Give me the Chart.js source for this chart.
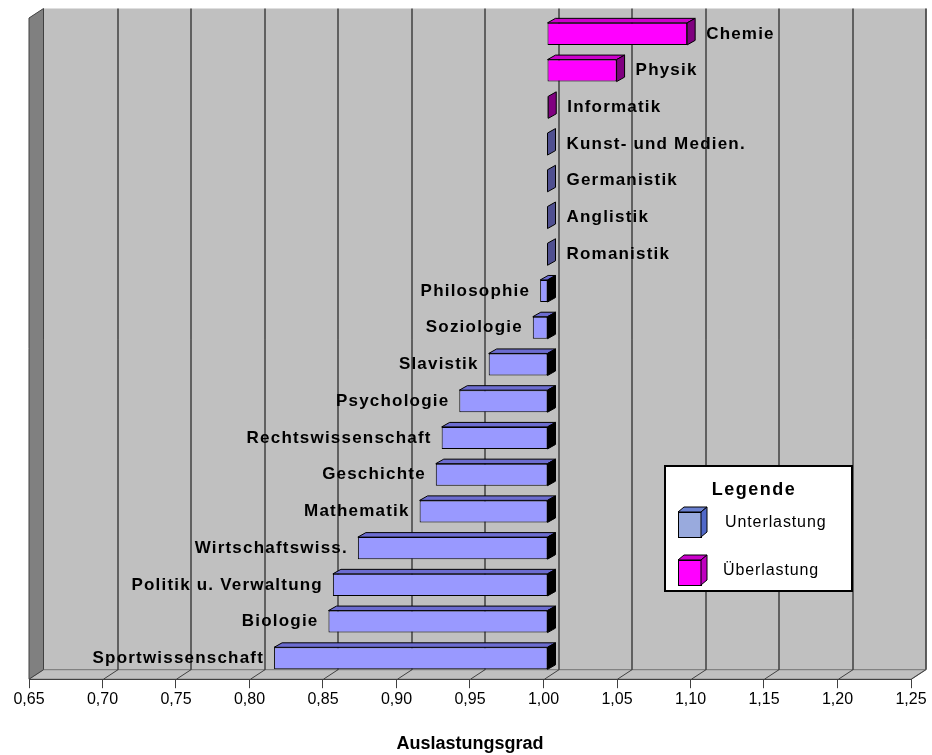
<!DOCTYPE html>
<html>
<head>
<meta charset="utf-8">
<script src="https://cdn.jsdelivr.net/npm/chart.js@4"></script>
<style>
  body { margin: 0; background: #fff; }
  #wrap { width: 932px; height: 755px; }
</style>
</head>
<body>
<div id="wrap"><canvas id="chart"></canvas></div>
<script>
const categories = ['Chemie', 'Physik', 'Informatik', 'Kunst- und Medien.', 'Germanistik', 'Anglistik', 'Romanistik',
    'Philosophie', 'Soziologie', 'Slavistik', 'Psychologie', 'Rechtswissenschaft', 'Geschichte', 'Mathematik',
    'Wirtschaftswiss.', 'Politik u. Verwaltung', 'Biologie', 'Sportwissenschaft'];
const auslastung = [1.095, 1.047, 1.0005, 1.00, 1.00, 1.00, 1.00,
    0.995, 0.990, 0.960, 0.940, 0.928, 0.924, 0.913,
    0.871, 0.854, 0.851, 0.814];
const xTickLabels = ['0,65', '0,70', '0,75', '0,80', '0,85', '0,90', '0,95', '1,00', '1,05', '1,10', '1,15', '1,20', '1,25'];
const seriesNames = ['Unterlastung', 'Überlastung'];

// floating bars, all starting at 1,00
const unterlastung = auslastung.map(v => v <= 1 ? [1, v] : null);
const ueberlastung = auslastung.map(v => v > 1 ? [1, v] : null);

const FONT = 'Liberation Sans, Arial, sans-serif';
Chart.defaults.font.family = FONT;
Chart.defaults.color = '#000';

const wallDepth = { dx: 14.5, dy: -9.5 };
const barDepth = { dx: 8, dy: -4.5 };
const barShift = { dx: 4, dy: -2.5 };

const threeD = {
    id: 'threeD',
    beforeDraw(chart) {
        const { ctx, chartArea: a, scales: { x } } = chart;
        const W = wallDepth;
        ctx.save();
        // back wall
        ctx.fillStyle = '#c0c0c0';
        ctx.fillRect(a.left + W.dx, a.top + W.dy, a.right - a.left, a.bottom - a.top);
        ctx.strokeStyle = '#808080';
        ctx.lineWidth = 1;
        ctx.beginPath();
        ctx.moveTo(a.right + W.dx + 0.5, a.top + W.dy);
        ctx.lineTo(a.right + W.dx + 0.5, a.bottom + W.dy);
        ctx.stroke();
        // floor
        ctx.beginPath();
        ctx.moveTo(a.left, a.bottom);
        ctx.lineTo(a.right, a.bottom);
        ctx.lineTo(a.right + W.dx, a.bottom + W.dy);
        ctx.lineTo(a.left + W.dx, a.bottom + W.dy);
        ctx.closePath();
        ctx.fillStyle = '#c0c0c0';
        ctx.fill();
        ctx.strokeStyle = '#707070';
        ctx.stroke();
        // grid on wall and floor
        x.ticks.forEach((t, i) => {
            if (i === 0) return;
            const px = Math.round(x.getPixelForValue(t.value)) + 0.5;
            ctx.strokeStyle = '#000';
            ctx.beginPath();
            ctx.moveTo(px + W.dx, a.top + W.dy);
            ctx.lineTo(px + W.dx, a.bottom + W.dy);
            ctx.stroke();
            ctx.strokeStyle = '#404040';
            ctx.beginPath();
            ctx.moveTo(px, a.bottom);
            ctx.lineTo(px + W.dx, a.bottom + W.dy);
            ctx.stroke();
        });
        // left wall
        ctx.beginPath();
        ctx.moveTo(a.left, a.top);
        ctx.lineTo(a.left + W.dx, a.top + W.dy);
        ctx.lineTo(a.left + W.dx, a.bottom + W.dy);
        ctx.lineTo(a.left, a.bottom);
        ctx.closePath();
        ctx.fillStyle = '#808080';
        ctx.fill();
        ctx.strokeStyle = '#404040';
        ctx.stroke();
        ctx.restore();
    },
    beforeDatasetsDraw(chart) {
        chart.ctx.save();
        chart.ctx.translate(barShift.dx, barShift.dy);
    },
    afterDatasetsDraw(chart) {
        const ctx = chart.ctx;
        const D = barDepth;
        chart.data.datasets.forEach((ds, di) => {
            chart.getDatasetMeta(di).data.forEach((el, i) => {
                if (!ds.data[i]) return;
                const p = el.getProps(['x', 'y', 'base', 'height'], true);
                const left = Math.min(p.x, p.base), right = Math.max(p.x, p.base);
                const top = p.y - p.height / 2, bottom = p.y + p.height / 2;
                ctx.strokeStyle = '#000';
                ctx.lineWidth = 1;
                if (right - left >= 2) {
                    ctx.beginPath();
                    ctx.moveTo(left, top);
                    ctx.lineTo(right, top);
                    ctx.lineTo(right + D.dx, top + D.dy);
                    ctx.lineTo(left + D.dx, top + D.dy);
                    ctx.closePath();
                    ctx.fillStyle = ds.topColor;
                    ctx.fill();
                    ctx.stroke();
                }
                ctx.beginPath();
                ctx.moveTo(right, top);
                ctx.lineTo(right + D.dx, top + D.dy);
                ctx.lineTo(right + D.dx, bottom + D.dy);
                ctx.lineTo(right, bottom);
                ctx.closePath();
                ctx.fillStyle = right - left >= 2 ? ds.sideColor : ds.tipColor;
                ctx.fill();
                ctx.stroke();
            });
        });
        ctx.restore();

        // category labels next to the bars
        ctx.save();
        ctx.font = 'bold 17px ' + FONT;
        ctx.letterSpacing = '1.2px';
        ctx.fillStyle = '#000';
        ctx.textBaseline = 'middle';
        categories.forEach((c, i) => {
            const di = auslastung[i] > 1 ? 1 : 0;
            const el = chart.getDatasetMeta(di).data[i];
            const p = el.getProps(['x', 'y', 'base'], true);
            const left = Math.min(p.x, p.base) + barShift.dx;
            const right = Math.max(p.x, p.base) + barShift.dx;
            const y = p.y + barShift.dy;
            if (auslastung[i] < 1) {
                ctx.textAlign = 'right';
                ctx.fillText(c, left - 10, y);
            } else {
                ctx.textAlign = 'left';
                ctx.fillText(c, right + D.dx + 11, y);
            }
        });
        ctx.restore();
    },
    afterDraw(chart) {
        const ctx = chart.ctx;
        const bx = 665, by = 466, bw = 187, bh = 125;
        ctx.save();
        ctx.fillStyle = '#fff';
        ctx.fillRect(bx, by, bw, bh);
        ctx.strokeStyle = '#000';
        ctx.lineWidth = 2;
        ctx.strokeRect(bx, by, bw, bh);
        ctx.fillStyle = '#000';
        ctx.textBaseline = 'middle';
        ctx.textAlign = 'center';
        ctx.font = 'bold 18px ' + FONT;
        ctx.letterSpacing = '1.5px';
        ctx.fillText('Legende', 754, 490);
        ctx.font = '16px ' + FONT;
        ctx.letterSpacing = '0.9px';
        ctx.textAlign = 'left';
        const icons = [
            { y: 512, front: '#99aadd', top: '#6a80d0', side: '#5068c8' },
            { y: 560, front: '#ff00ff', top: '#cc00cc', side: '#c000c0' }
        ];
        icons.forEach((ic, k) => {
            const x0 = 678, w = 23, h = 25, dx = 6, dy = -5;
            ctx.lineWidth = 1;
            ctx.strokeStyle = '#000';
            ctx.fillStyle = ic.front;
            ctx.fillRect(x0, ic.y, w, h);
            ctx.strokeRect(x0 + 0.5, ic.y + 0.5, w, h);
            ctx.beginPath();
            ctx.moveTo(x0, ic.y); ctx.lineTo(x0 + dx, ic.y + dy);
            ctx.lineTo(x0 + w + dx, ic.y + dy); ctx.lineTo(x0 + w, ic.y);
            ctx.closePath();
            ctx.fillStyle = ic.top; ctx.fill(); ctx.stroke();
            ctx.beginPath();
            ctx.moveTo(x0 + w, ic.y); ctx.lineTo(x0 + w + dx, ic.y + dy);
            ctx.lineTo(x0 + w + dx, ic.y + h + dy); ctx.lineTo(x0 + w, ic.y + h);
            ctx.closePath();
            ctx.fillStyle = ic.side; ctx.fill(); ctx.stroke();
            ctx.fillStyle = '#000';
            ctx.fillText(seriesNames[k], k === 0 ? 725 : 723, ic.y + 11);
        });
        ctx.restore();
    }
};

new Chart(document.getElementById('chart'), {
    type: 'bar',
    data: {
        labels: categories,
        datasets: [
            {
                label: seriesNames[0],
                data: unterlastung,
                backgroundColor: '#9999ff',
                borderColor: '#000',
                borderWidth: 1,
                borderSkipped: false,
                topColor: '#6c6cd0',
                sideColor: '#000000',
                tipColor: '#505090'
            },
            {
                label: seriesNames[1],
                data: ueberlastung,
                backgroundColor: '#ff00ff',
                borderColor: '#000',
                borderWidth: 1,
                borderSkipped: false,
                topColor: '#cc00cc',
                sideColor: '#800080',
                tipColor: '#800080'
            }
        ]
    },
    options: {
        indexAxis: 'y',
        responsive: true,
        maintainAspectRatio: false,
        animation: false,
        datasets: { bar: { grouped: false, categoryPercentage: 1, barPercentage: 0.6 } },
        layout: { padding: { left: 29, right: 21, top: 18, bottom: 0 } },
        scales: {
            x: {
                min: 0.65,
                max: 1.25,
                ticks: {
                    stepSize: 0.05,
                    autoSkip: false,
                    maxRotation: 0,
                    padding: 2,
                    font: { size: 16 },
                    color: '#000',
                    callback: v => xTickLabels[Math.round((v - 0.65) / 0.05)]
                },
                grid: { drawOnChartArea: false, drawTicks: true, tickLength: 9, color: '#404040' },
                border: { color: '#404040', width: 1 },
                title: {
                    display: true,
                    text: 'Auslastungsgrad',
                    font: { size: 18, weight: 'bold' },
                    color: '#000',
                    padding: { top: 22, bottom: 0 }
                }
            },
            y: { display: false }
        },
        plugins: {
            legend: { display: false },
            tooltip: { enabled: false }
        }
    },
    plugins: [threeD]
});
</script>
</body>
</html>
